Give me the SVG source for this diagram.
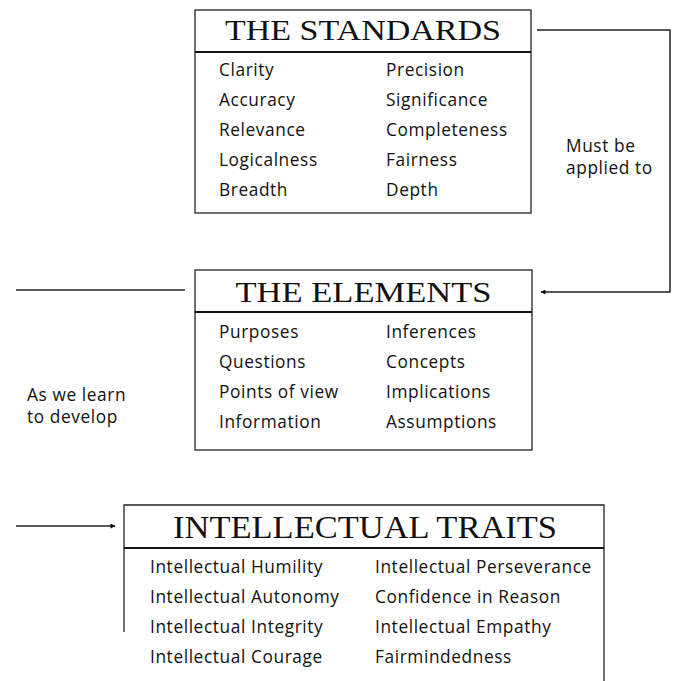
<svg xmlns="http://www.w3.org/2000/svg" width="678" height="681" viewBox="0 0 678 681">
<style>
  .box { fill: none; stroke: #222; stroke-width: 1.3; }
  .hdr { stroke: #111; stroke-width: 1.8; }
  .title { font-family: "Liberation Serif", "Times New Roman", serif; font-size: 30px; fill: #111; text-anchor: middle; }
  .item { font-family: "Open Sans", "Liberation Sans", sans-serif; font-size: 17.3px; fill: #111; letter-spacing: 0.6px; }
  .conn { fill: none; stroke: #222; stroke-width: 1.5; }
</style>
<defs>
  <marker id="arrow" viewBox="0 0 10 10" refX="9" refY="5" markerWidth="7" markerHeight="5" orient="auto" markerUnits="userSpaceOnUse">
    <path d="M0,0 L10,5 L0,10 Z" fill="#111"/>
  </marker>
</defs>
<rect width="678" height="681" fill="#fff"/>

<g id="standards">
  <rect class="box" x="195" y="10" width="336" height="203"/>
  <line class="hdr" x1="195" y1="52" x2="531" y2="52"/>
  <text class="title" x="363" y="40" textLength="276" lengthAdjust="spacingAndGlyphs">THE STANDARDS</text>
  <text class="item" x="219" y="76">Clarity</text>
  <text class="item" x="219" y="106">Accuracy</text>
  <text class="item" x="219" y="136">Relevance</text>
  <text class="item" x="219" y="166">Logicalness</text>
  <text class="item" x="219" y="196">Breadth</text>
  <text class="item" x="386" y="76">Precision</text>
  <text class="item" x="386" y="106">Significance</text>
  <text class="item" x="386" y="136">Completeness</text>
  <text class="item" x="386" y="166">Fairness</text>
  <text class="item" x="386" y="196">Depth</text>
</g>

<g id="elements">
  <rect class="box" x="195" y="270" width="337" height="180"/>
  <line class="hdr" x1="195" y1="312" x2="532" y2="312"/>
  <text class="title" x="363.5" y="302" textLength="256" lengthAdjust="spacingAndGlyphs">THE ELEMENTS</text>
  <text class="item" x="219" y="338">Purposes</text>
  <text class="item" x="219" y="368">Questions</text>
  <text class="item" x="219" y="398">Points of view</text>
  <text class="item" x="219" y="428">Information</text>
  <text class="item" x="386" y="338">Inferences</text>
  <text class="item" x="386" y="368">Concepts</text>
  <text class="item" x="386" y="398">Implications</text>
  <text class="item" x="386" y="428">Assumptions</text>
</g>

<g id="traits">
  <path class="box" d="M124,632 L124,505 L604,505 L604,681"/>
  <line class="hdr" x1="124" y1="548" x2="604" y2="548"/>
  <text class="title" x="365" y="538" style="font-size:32px" textLength="384" lengthAdjust="spacingAndGlyphs">INTELLECTUAL TRAITS</text>
  <text class="item" x="150" y="573">Intellectual Humility</text>
  <text class="item" x="150" y="603">Intellectual Autonomy</text>
  <text class="item" x="150" y="633">Intellectual Integrity</text>
  <text class="item" x="150" y="663">Intellectual Courage</text>
  <text class="item" x="375" y="573">Intellectual Perseverance</text>
  <text class="item" x="375" y="603">Confidence in Reason</text>
  <text class="item" x="375" y="633">Intellectual Empathy</text>
  <text class="item" x="375" y="663">Fairmindedness</text>
</g>

<g id="connectors">
  <path class="conn" d="M537,30 L670,30 L670,292 L541,292" marker-end="url(#arrow)"/>
  <line class="conn" x1="16" y1="290" x2="185" y2="290"/>
  <line class="conn" x1="16" y1="526" x2="115" y2="526" marker-end="url(#arrow)"/>
  <g id="label-must">
    <text class="item" x="566" y="152">Must be</text>
    <text class="item" x="566" y="174">applied to</text>
  </g>
  <g id="label-learn">
    <text class="item" x="27" y="401">As we learn</text>
    <text class="item" x="27" y="423">to develop</text>
  </g>
</g>
</svg>
